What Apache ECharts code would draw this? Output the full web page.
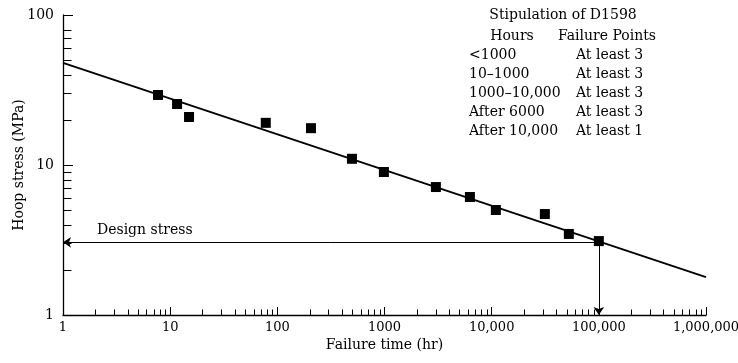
<!DOCTYPE html>
<html>
<head>
<meta charset="utf-8">
<script src="https://cdn.jsdelivr.net/npm/echarts@6/dist/echarts.min.js"></script>
<style>
  html, body { margin: 0; padding: 0; background: #fff; }
  #chart { width: 738px; height: 363px; }
</style>
</head>
<body>
<div id="chart"></div>
<script>
// failure points (hours, MPa)
const failureHours = [7.7, 11.6, 15, 78, 206, 497, 987, 3016, 6266, 10940, 31350, 52500, 100000];
const hoopStress = [29.3, 25.5, 20.9, 19.1, 17.6, 11.0, 8.98, 7.13, 6.12, 5.01, 4.71, 3.47, 3.11];

// fitted regression line end points
const fitHours = [1, 1000000];
const fitStress = [47.9, 1.79];

// design stress construction
const designHours = 100000;
const designStress = 3.05;

// axis ticks
const xMajorTicks = [1, 10, 100, 1000, 10000, 100000, 1000000];
const xMinorTicks = [];
xMajorTicks.slice(0, -1).forEach(d => {
  for (let k = 2; k <= 9; k++) xMinorTicks.push(d * k);
});
const yMinorTicks = [2, 3, 4, 5, 6, 7, 8, 9, 20, 30, 40, 50, 60, 70, 80];

// D1598 stipulation table
const tableTitle = 'Stipulation of D1598';
const tableHeaders = ['Hours', 'Failure Points'];
const tableHours = ['<1000', '10\u20131000', '1000\u201310,000', 'After 6000', 'After 10,000'];
const tablePoints = ['At least 3', 'At least 3', 'At least 3', 'At least 3', 'At least 1'];

const FONT = '"DejaVu Serif", serif';
const INK = '#000';

const chart = echarts.init(document.getElementById('chart'));

const txt = (text, x, y, align) => ({
  type: 'text', x, y, z: 10,
  style: { text, font: '14px ' + FONT, fill: INK, textAlign: align, textVerticalAlign: 'middle' }
});
const tableGraphics = [
  txt(tableTitle, 563, 15, 'center'),
  txt(tableHeaders[0], 512, 36, 'center'),
  txt(tableHeaders[1], 607, 36, 'center')
];
tableHours.forEach((h, i) => {
  const y = 55 + i * 19;
  tableGraphics.push(txt(h, 469, y, 'left'));
  tableGraphics.push(txt(tablePoints[i], 576, y, 'left'));
});

// short tick marks drawn at data positions through the axes
const tickItem = (dx, dy) => (params, api) => {
  const p = api.coord([api.value(0), api.value(1)]);
  const x = Math.round(p[0]) + 0.5;
  const y = Math.round(p[1]) + 0.5;
  return {
    type: 'line',
    shape: { x1: x, y1: y, x2: x + dx, y2: y + dy },
    style: { stroke: INK, lineWidth: 1 }
  };
};

const option = {
  backgroundColor: '#fff',
  animation: false,
  grid: { left: 63, right: 32, top: 15, bottom: 48, outerBoundsMode: 'none' },
  xAxis: {
    type: 'log',
    logBase: 10,
    min: 1,
    max: 1000000,
    name: 'Failure time (hr)',
    nameLocation: 'middle',
    nameGap: 23,
    nameMoveOverlap: false,
    nameTextStyle: { fontFamily: FONT, fontSize: 14, color: INK },
    axisLine: { lineStyle: { color: INK, width: 1.3 } },
    axisTick: { inside: true, length: 8, lineStyle: { color: INK } },
    axisLabel: {
      fontFamily: FONT, fontSize: 13, color: INK, margin: 6,
      formatter: v => (v >= 10000 ? v.toLocaleString('en-US') : String(v))
    },
    splitLine: { show: false }
  },
  yAxis: {
    type: 'log',
    logBase: 10,
    min: 1,
    max: 100,
    name: 'Hoop stress (MPa)',
    nameLocation: 'middle',
    nameGap: 37,
    nameMoveOverlap: false,
    nameTextStyle: { fontFamily: FONT, fontSize: 14, color: INK },
    axisLine: { lineStyle: { color: INK, width: 1.3 } },
    axisTick: { inside: true, length: 10, lineStyle: { color: INK } },
    axisLabel: { fontFamily: FONT, fontSize: 14, color: INK, margin: 9 },
    splitLine: { show: false }
  },
  graphic: tableGraphics,
  series: [
    {
      type: 'custom',
      renderItem: tickItem(0, -6),
      encode: { x: 0, y: 1 },
      data: xMinorTicks.map(v => [v, 1]),
      clip: false,
      silent: true,
      z: 5
    },
    {
      type: 'custom',
      renderItem: tickItem(8, 0),
      encode: { x: 0, y: 1 },
      data: yMinorTicks.map(v => [1, v]),
      clip: false,
      silent: true,
      z: 5
    },
    {
      type: 'line',
      data: fitHours.map((h, i) => [h, fitStress[i]]),
      symbol: 'none',
      lineStyle: { color: INK, width: 1.8 },
      clip: false,
      z: 3
    },
    {
      type: 'lines',
      coordinateSystem: 'cartesian2d',
      symbol: ['none', 'arrow'],
      symbolSize: 8,
      lineStyle: { color: INK, width: 1, opacity: 1 },
      data: [
        { coords: [[designHours, designStress], [1, designStress]] },
        { coords: [[designHours, designStress], [designHours, 1]] }
      ],
      z: 2
    },
    {
      type: 'scatter',
      data: [[5.8, designStress]],
      symbolSize: 0,
      itemStyle: { opacity: 1 },
      label: {
        show: true, position: 'top', distance: 5,
        formatter: 'Design stress',
        fontFamily: FONT, fontSize: 14, color: INK
      },
      silent: true
    },
    {
      type: 'scatter',
      data: failureHours.map((h, i) => [h, hoopStress[i]]),
      symbol: 'rect',
      symbolSize: 10,
      itemStyle: { color: INK, opacity: 1 },
      z: 4
    }
  ]
};

chart.setOption(option);
</script>
</body>
</html>
